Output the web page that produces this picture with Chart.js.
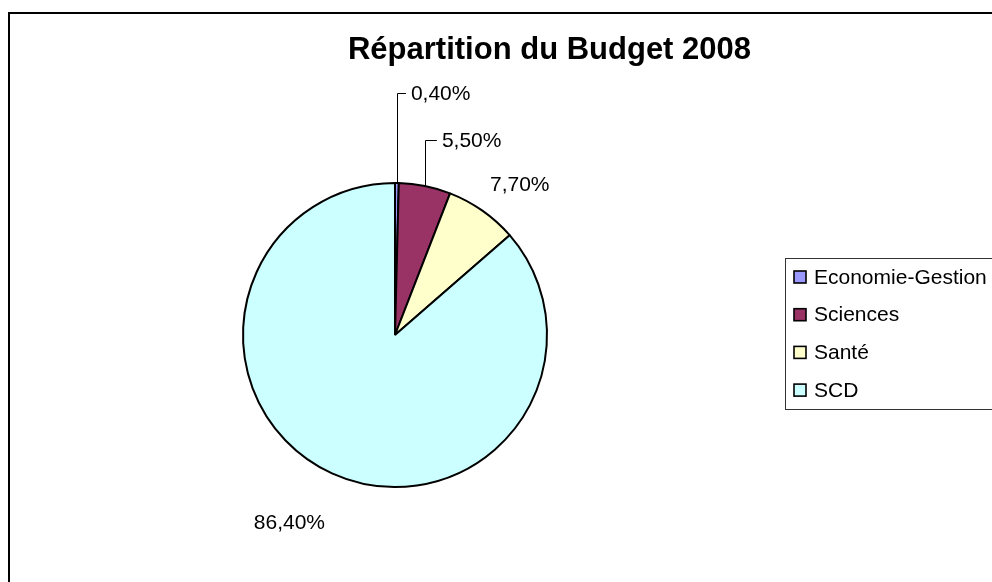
<!DOCTYPE html>
<html>
<head>
<meta charset="utf-8">
<script src="https://cdn.jsdelivr.net/npm/chart.js@4/dist/chart.umd.min.js"></script>
<style>
  html, body { margin: 0; padding: 0; background: #fff; overflow: hidden; width: 992px; height: 582px; }
  #frame { position: absolute; left: 8px; top: 12px; width: 1200px; height: 800px; border: 2px solid #000; box-sizing: border-box; }
  #c { position: absolute; left: 0; top: 0; }
</style>
</head>
<body>
<div id="frame"></div>
<canvas id="c" width="992" height="582"></canvas>
<script>
// ---- data ----
const chartTitle = 'Répartition du Budget 2008';
const categories = ['Economie-Gestion', 'Sciences', 'Santé', 'SCD'];
const shares = [0.4, 5.5, 7.7, 86.4];
const sliceColors = ['#9999FF', '#993366', '#FFFFCC', '#CCFFFF'];

// ---- style: label placement relative to each slice's outer mid-point ----
const labelStyle = [
  { leader: true, elbowDy: -90, elbowDx: 9, textDx: 5, align: 'left' },
  { leader: true, elbowDy: -46, elbowDx: 12, textDx: 5, align: 'left' },
  { leader: false, dx: 7.6, dy: -25.6, align: 'left' },
  { leader: false, dx: -7, dy: 50, align: 'right' }
];

const FONT = "'Liberation Sans', Arial, sans-serif";
const fmt = v => v.toFixed(2).replace('.', ',') + '%';

const decor = {
  id: 'decor',
  afterDraw(chart) {
    const ctx = chart.ctx;
    ctx.save();
    ctx.fillStyle = '#000';
    ctx.font = 'bold 31px ' + FONT;
    ctx.textAlign = 'center';
    ctx.textBaseline = 'alphabetic';
    ctx.fillText(chartTitle, 549.5, 59);

    const meta = chart.getDatasetMeta(0);
    const values = chart.data.datasets[0].data;
    ctx.font = '21px ' + FONT;
    ctx.textBaseline = 'middle';
    meta.data.forEach((arc, i) => {
      const p = arc.getProps(['x', 'y', 'startAngle', 'endAngle', 'outerRadius'], true);
      const mid = (p.startAngle + p.endAngle) / 2;
      const ox = p.x + Math.cos(mid) * p.outerRadius;
      const oy = p.y + Math.sin(mid) * p.outerRadius;
      const s = labelStyle[i];
      const txt = fmt(values[i]);
      ctx.fillStyle = '#000';
      if (s.leader) {
        const ey = oy + s.elbowDy;
        const ex = ox + s.elbowDx;
        ctx.strokeStyle = '#000';
        ctx.lineWidth = 1;
        ctx.beginPath();
        ctx.moveTo(Math.round(ox) + 0.5, oy);
        ctx.lineTo(Math.round(ox) + 0.5, Math.round(ey) + 0.5);
        ctx.lineTo(ex, Math.round(ey) + 0.5);
        ctx.stroke();
        ctx.textAlign = 'left';
        ctx.fillText(txt, ex + s.textDx, ey + 1);
      } else {
        ctx.textAlign = s.align;
        ctx.fillText(txt, ox + s.dx, oy + s.dy);
      }
    });

    const lx = 785.5, ly = 258.5, lw = 300, lh = 151;
    ctx.fillStyle = '#fff';
    ctx.fillRect(lx, ly, lw, lh);
    ctx.strokeStyle = '#333';
    ctx.lineWidth = 1;
    ctx.strokeRect(lx, ly, lw, lh);
    const ds = chart.data.datasets[0];
    ctx.font = '21px ' + FONT;
    ctx.textAlign = 'left';
    ctx.textBaseline = 'middle';
    chart.data.labels.forEach((lab, i) => {
      const cy = 277 + i * 37.7;
      ctx.fillStyle = ds.backgroundColor[i];
      ctx.fillRect(794, cy - 6, 12, 12);
      ctx.strokeStyle = '#000';
      ctx.lineWidth = 1.6;
      ctx.strokeRect(794, cy - 6, 12, 12);
      ctx.fillStyle = '#000';
      ctx.fillText(lab, 814, cy + 1);
    });
    ctx.restore();
  }
};

new Chart(document.getElementById('c'), {
  type: 'pie',
  data: {
    labels: categories,
    datasets: [{
      data: shares,
      backgroundColor: sliceColors,
      borderColor: '#000',
      borderWidth: 2,
      hoverOffset: 0
    }]
  },
  options: {
    responsive: false,
    animation: false,
    devicePixelRatio: 1,
    radius: 152,
    layout: { padding: { left: 100, right: 302, top: 150, bottom: 62 } },
    plugins: {
      legend: { display: false },
      title: { display: false },
      tooltip: { enabled: false }
    },
    events: []
  },
  plugins: [decor]
});
</script>
</body>
</html>
